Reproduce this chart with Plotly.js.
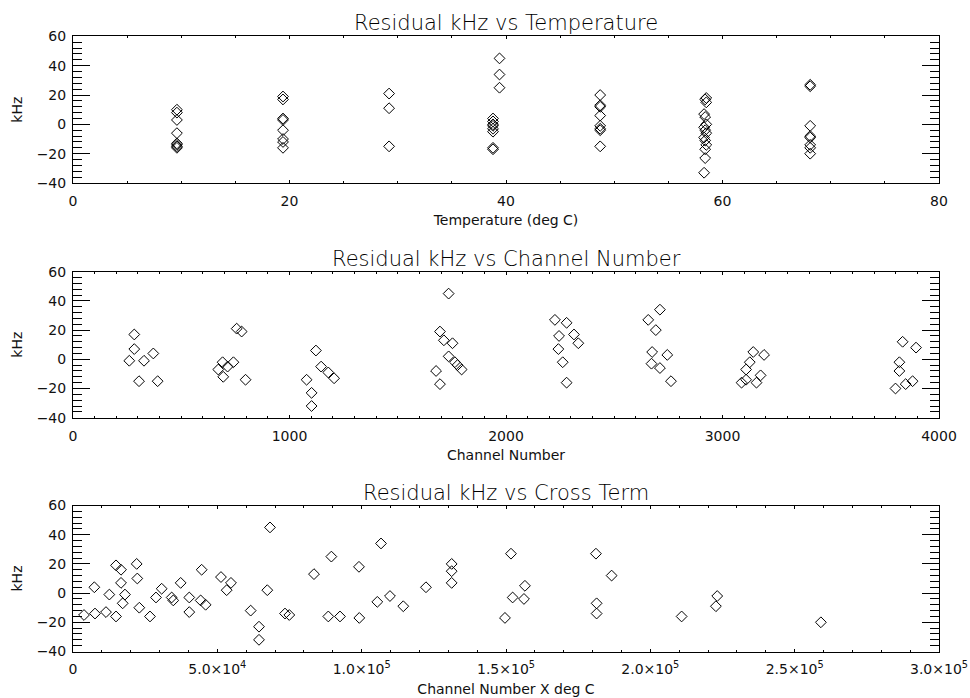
<!DOCTYPE html>
<html><head><meta charset="utf-8">
<script src="https://cdn.plot.ly/plotly-3.0.1.min.js"></script>
<style>html,body{margin:0;padding:0;background:#fff}#chart{width:970px;height:698px}</style>
</head><body><div id="chart"></div>
<script>
// Panel 1: residual vs temperature
const tempC = [
  9.6,9.6,9.6,9.6,9.6,9.6,9.6,9.6,
  19.4,19.4,19.4,19.4,19.4,19.4,19.4,19.4,
  29.2,29.2,29.2,
  39.4,39.4,39.4,38.8,38.8,38.8,38.8,38.8,38.8,38.8,38.8,
  48.7,48.7,48.7,48.7,48.7,48.7,48.7,48.7,
  58.5,58.4,58.5,58.3,58.4,58.5,58.3,58.4,58.5,58.3,58.4,58.5,58.4,58.4,58.3,
  68.1,68.1,68.1,68.1,68.1,68.1,68.1,68.1
];
const tempResid = [
  10,8,3,-6,-13,-14,-15,-16,
  19,17,4,3,-4,-10,-12,-16,
  21,11,-15,
  45,34,25,4,2,0,-1,-3,-5,-16,-17,
  20,13,12,6,-1,-3,-4,-15,
  18,17,15,7,5,0,-2,-4,-6,-9,-11,-14,-17,-23,-33,
  27,26,-1,-8,-9,-14,-16,-20
];
// Panel 2: residual vs channel number
const channel = [
  260,283,283,305,328,371,391,
  671,691,694,714,741,756,779,797,
  1079,1102,1102,1122,1146,1179,1206,
  1677,1695,1695,1713,1735,1735,1753,1764,1776,1795,
  2226,2242,2245,2262,2280,2280,2314,2334,
  2657,2672,2675,2692,2711,2711,2745,2762,
  3088,3109,3109,3126,3142,3157,3176,3192,
  3799,3817,3817,3832,3846,3878,3894
];
const chanResid = [
  -1,17,7,-15,-1,4,-15,
  -7,-2,-12,-5,-2,21,19,-14,
  -14,-23,-32,6,-5,-9,-13,
  -8,19,-17,13,45,2,11,-2,-4,-7,
  27,7,16,-2,25,-16,17,11,
  27,-3,5,20,34,-6,3,-15,
  -16,-7,-14,-2,5,-16,-11,3,
  -20,-2,-8,12,-17,-15,8
];
// Panel 3: residual vs cross term
const crossTerm = [
  3810,7390,7620,11430,12590,14900,14900,16630,16630,18010,17210,
  22060,22280,22970,26670,28750,30720,34180,34740,37300,40280,40280,
  44570,44220,45950,51260,53230,54720,61550,64430,64430,68240,67310,
  73440,74930,83480,88440,89500,92490,99070,99180,106700,105420,109800,
  114420,122280,131180,131180,131180,149640,151720,152300,156560,156220,
  181160,181390,181390,186590,210840,223170,222720,259080
];
const crossResid = [
  -15,4,-14,-13,-1,-16,19,16,7,-1,-7,
  20,10,-10,-16,-3,3,-3,-5,7,-3,-13,
  16,-5,-8,11,2,7,-12,-23,-32,45,2,
  -14,-15,13,-16,25,-16,18,-17,34,-6,-2,
  -9,4,20,15,7,-17,27,-3,5,-4,
  27,-7,-14,12,-16,-2,-9,-20
];

const yTickVals = [-40,-20,0,20,40,60];
const yTickText = ['\u221240','\u221220','0','20','40','60'];
const tempTickVals = [0,20,40,60,80];
const tempTickText = ['0','20','40','60','80'];
const chanTickVals = [0,1000,2000,3000,4000];
const chanTickText = ['0','1000','2000','3000','4000'];
const crossTickVals = [0,50000,100000,150000,200000,250000,300000];
const crossTickText = ['0','5.0\u00d710<sup>4</sup>','1.0\u00d710<sup>5</sup>','1.5\u00d710<sup>5</sup>',
  '2.0\u00d710<sup>5</sup>','2.5\u00d710<sup>5</sup>','3.0\u00d710<sup>5</sup>'];

const panelTitles = ['Residual kHz vs Temperature','Residual kHz vs Channel Number','Residual kHz vs Cross Term'];
const xTitles = ['Temperature (deg C)','Channel Number','Channel Number X deg C'];

const W = 970, H = 698;
const xDom = [73/W, 939/W];
const panels = [[36.4,183],[271.7,417.7],[505.5,651.5]];
const yDoms = panels.map(p => [1 - p[1]/H, 1 - p[0]/H]);

const fnt = 'DejaVu Sans, sans-serif';
const mk = {symbol:'diamond-open', size:8.3, color:'#000', line:{width:1, color:'#000'}};

const traces = [
  {x:tempC, y:tempResid, xaxis:'x', yaxis:'y', type:'scatter', mode:'markers', marker:mk},
  {x:channel, y:chanResid, xaxis:'x2', yaxis:'y2', type:'scatter', mode:'markers', marker:mk},
  {x:crossTerm, y:crossResid, xaxis:'x3', yaxis:'y3', type:'scatter', mode:'markers', marker:mk}
];

function xax(i, range, tv, tt, minorD) {
  return {
    domain:xDom, anchor:'y'+(i===0?'':i+1), range:range,
    tickmode:'array', tickvals:tv, ticktext:tt,
    ticks:'inside', ticklen:3, tickwidth:1, tickcolor:'#000',
    mirror:'ticks', showline:true, linecolor:'#000', linewidth:1,
    showgrid:false, zeroline:false,
    minor:{ticks:'inside', ticklen:2, tickmode:'linear', tick0:0, dtick:minorD, tickcolor:'#000', tickwidth:1, showgrid:false},
    ticklabelstandoff:5,
    tickfont:{family:fnt, size:14, color:'#111'},
    title:{text:xTitles[i], font:{family:fnt, size:14, color:'#111'}, standoff:7}
  };
}
function yax(i) {
  return {
    domain:yDoms[i], anchor:'x'+(i===0?'':i+1), range:[-40,60],
    tickmode:'array', tickvals:yTickVals, ticktext:yTickText,
    ticks:'inside', ticklen:17, tickwidth:1, tickcolor:'#000',
    mirror:'ticks', showline:true, linecolor:'#000', linewidth:1,
    showgrid:false, zeroline:false,
    minor:{ticks:'inside', ticklen:9, tickmode:'linear', tick0:0, dtick:4, tickcolor:'#000', tickwidth:1, showgrid:false},
    ticklabelstandoff:3,
    tickfont:{family:fnt, size:14, color:'#111'},
    title:{text:'kHz', font:{family:fnt, size:14, color:'#111'}, standoff:10}
  };
}

const titleY = [23.5, 258.5, 492.5];
const layout = {
  width:W, height:H, showlegend:false,
  paper_bgcolor:'#fff', plot_bgcolor:'#fff',
  margin:{l:0,r:0,t:0,b:0},
  font:{family:fnt, size:14, color:'#000'},
  xaxis:xax(0,[0,80],tempTickVals,tempTickText,5),
  xaxis2:xax(1,[0,4000],chanTickVals,chanTickText,100),
  xaxis3:xax(2,[0,300000],crossTickVals,crossTickText,10000),
  yaxis:yax(0), yaxis2:yax(1), yaxis3:yax(2),
  annotations: panelTitles.map((t,i) => ({
    text:t, xref:'paper', yref:'paper', x:(xDom[0]+xDom[1])/2, y:1-titleY[i]/H,
    xanchor:'center', yanchor:'middle', showarrow:false,
    font:{family:fnt, size:21, color:'#000', weight:300}
  }))
};
Plotly.newPlot('chart', traces, layout, {staticPlot:true, displayModeBar:false});
</script>
</body></html>
